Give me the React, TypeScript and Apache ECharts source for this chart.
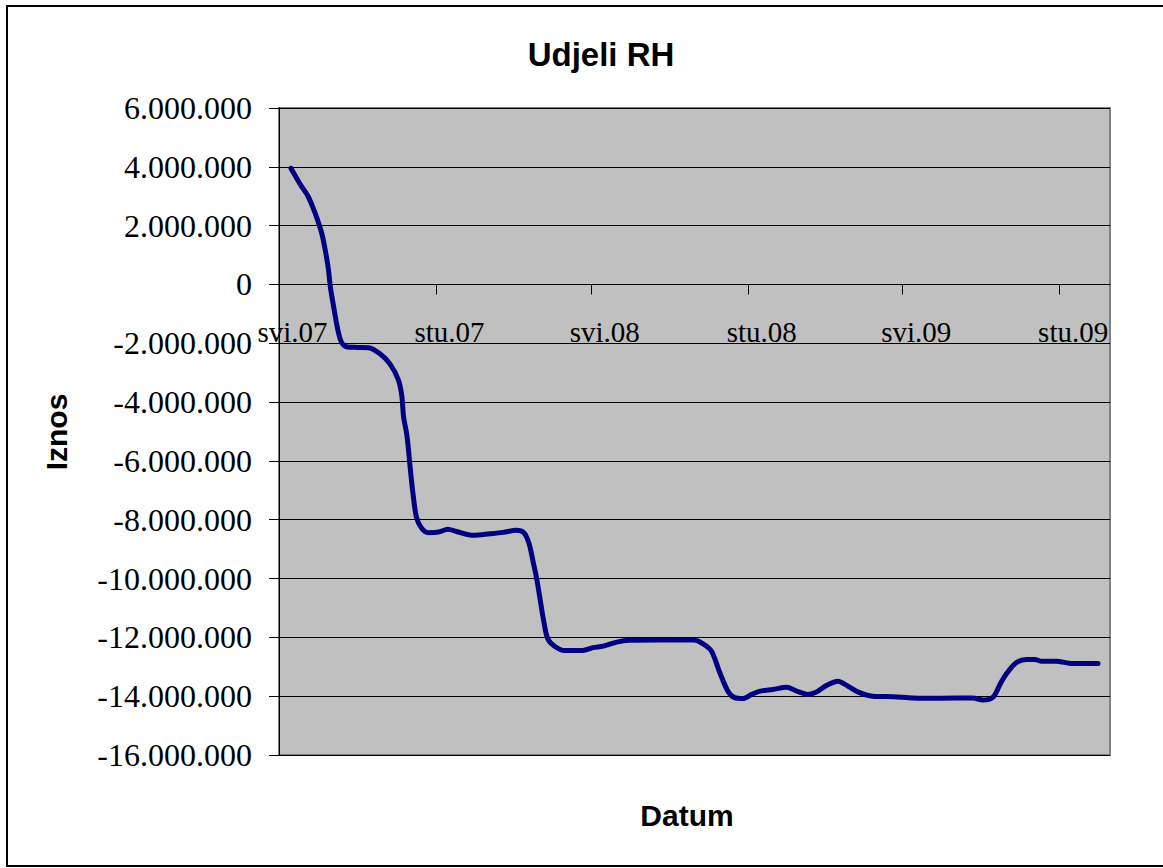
import React, { useEffect, useRef } from 'react';
import * as echarts from 'echarts';

const dates: string[] = [
  '2007-05-15', '2007-05-26', '2007-06-04', '2007-06-12', '2007-06-20', '2007-06-24', '2007-06-28', '2007-06-30',
  '2007-07-04', '2007-07-09', '2007-07-13', '2007-07-19', '2007-08-01', '2007-08-14', '2007-08-27', '2007-09-08',
  '2007-09-18', '2007-09-22', '2007-09-24', '2007-09-28', '2007-10-02', '2007-10-05', '2007-10-09', '2007-10-15',
  '2007-10-23', '2007-11-04', '2007-11-15', '2007-11-25', '2007-12-15', '2008-01-03', '2008-01-19', '2008-02-03',
  '2008-02-12', '2008-02-18', '2008-02-23', '2008-02-27', '2008-03-02', '2008-03-06', '2008-03-11', '2008-03-19',
  '2008-03-31', '2008-04-21', '2008-05-03', '2008-05-15', '2008-05-31', '2008-06-15', '2008-07-20', '2008-08-29',
  '2008-09-09', '2008-09-19', '2008-09-28', '2008-10-08', '2008-10-16', '2008-10-26', '2008-11-05', '2008-11-15',
  '2008-11-30', '2008-12-16', '2008-12-28', '2009-01-10', '2009-01-20', '2009-02-01', '2009-02-14', '2009-02-26',
  '2009-03-10', '2009-03-27', '2009-04-20', '2009-05-13', '2009-06-14', '2009-07-22', '2009-08-03', '2009-08-15',
  '2009-08-23', '2009-08-30', '2009-09-11', '2009-09-23', '2009-10-03', '2009-10-10', '2009-10-28', '2009-11-16',
  '2009-12-16',
];

const values: number[] = [
  3950000, 3400000, 3000000, 2450000, 1750000, 1200000, 500000, -50000,
  -750000, -1550000, -1950000, -2120000, -2140000, -2150000, -2350000, -2700000,
  -3250000, -3800000, -4500000, -5150000, -6300000, -7100000, -7900000, -8280000,
  -8440000, -8420000, -8320000, -8400000, -8530000, -8480000, -8430000, -8360000,
  -8440000, -8800000, -9450000, -10000000, -10700000, -11400000, -12050000, -12300000,
  -12450000, -12450000, -12350000, -12300000, -12160000, -12100000, -12090000, -12090000,
  -12220000, -12470000, -13150000, -13820000, -14050000, -14080000, -13940000, -13830000,
  -13770000, -13700000, -13830000, -13940000, -13860000, -13630000, -13490000, -13660000,
  -13860000, -14000000, -14020000, -14060000, -14070000, -14060000, -14130000, -14030000,
  -13600000, -13260000, -12860000, -12750000, -12750000, -12810000, -12810000, -12890000,
  -12890000,
];

const tickDates: string[] = ['2007-05-01', '2007-11-01', '2008-05-01', '2008-11-01', '2009-05-01', '2009-11-01'];
const tickLabels: string[] = ['svi.07', 'stu.07', 'svi.08', 'stu.08', 'svi.09', 'stu.09'];
const axisStart = '2007-05-01';
const axisEnd = '2009-12-30';
const yMin = -16000000;
const yMax = 6000000;
const yStep = 2000000;

const chartTitle = 'Udjeli RH';
const xTitle = 'Datum';
const yTitle = 'Iznos';

const toUTC = (s: string) => {
  const [y, m, d] = s.split('-').map(Number);
  return Date.UTC(y, m - 1, d);
};
const dayOf = (s: string) => Math.round((toUTC(s) - toUTC(axisStart)) / 86400000);

const fmtNum = (v: number) => {
  const s = Math.round(Math.abs(v)).toString().replace(/\B(?=(\d{3})+(?!\d))/g, '.');
  return (v < 0 ? '-' : '') + s;
};

const GRID_TOP = 108;
const GRID_HEIGHT = 647;

export default function App() {
  const ref = useRef<HTMLDivElement>(null);

  useEffect(() => {
    if (!ref.current) return;
    const chart = echarts.init(ref.current, undefined, { renderer: 'svg' });
    const tickDays = tickDates.map(dayOf);
    const seriesData = dates.map((d, i) => [dayOf(d), values[i]]);
    // distance from the bottom of the plot to the zero line, so the x axis sits on zero
    const zeroOffset = -GRID_HEIGHT * (0 - yMin) / (yMax - yMin);

    chart.setOption({
      animation: false,
      backgroundColor: '#ffffff',
      grid: {
        left: 279,
        top: GRID_TOP,
        width: 831,
        height: GRID_HEIGHT,
        show: true,
        backgroundColor: '#C0C0C0',
        borderColor: '#808080',
        borderWidth: 2,
        outerBoundsMode: 'none',
        containLabel: false,
      },
      xAxis: {
        type: 'value',
        position: 'bottom',
        offset: zeroOffset,
        min: 0,
        max: dayOf(axisEnd),
        axisLine: { show: true, onZero: false, lineStyle: { color: '#000', width: 1 } },
        axisTick: {
          show: true,
          inside: false,
          length: 10,
          customValues: tickDays,
          lineStyle: { color: '#000', width: 1 },
        },
        axisLabel: {
          show: true,
          customValues: tickDays,
          margin: 33,
          fontFamily: '"Liberation Serif", "Times New Roman", serif',
          fontSize: 29,
          color: '#000',
          padding: [0, 0, 0, 27],
          formatter: (v: number) => {
            const i = tickDays.indexOf(Math.round(v));
            return i >= 0 ? tickLabels[i] : '';
          },
        },
        splitLine: { show: false },
      },
      yAxis: {
        type: 'value',
        min: yMin,
        max: yMax,
        interval: yStep,
        axisLine: { show: true, lineStyle: { color: '#000', width: 1 } },
        axisTick: { show: true, inside: false, length: 10, lineStyle: { color: '#000', width: 1 } },
        axisLabel: {
          margin: 27,
          fontFamily: '"Liberation Serif", "Times New Roman", serif',
          fontSize: 32,
          color: '#000',
          formatter: (v: number) => fmtNum(v),
        },
        splitLine: { show: true, lineStyle: { color: '#000', width: 1 } },
      },
      graphic: [
        {
          type: 'rect',
          z: -10,
          shape: { x: 7, y: 6, width: 1175, height: 860 },
          style: { fill: 'none', stroke: '#000', lineWidth: 2 },
        },
        {
          type: 'text',
          x: 601,
          y: 54,
          style: {
            text: chartTitle,
            fontFamily: '"Liberation Sans", Arial, sans-serif',
            fontWeight: 'bold',
            fontSize: 33,
            fill: '#000',
            align: 'center',
            verticalAlign: 'middle',
          },
        },
        {
          type: 'text',
          x: 687,
          y: 815,
          style: {
            text: xTitle,
            fontFamily: '"Liberation Sans", Arial, sans-serif',
            fontWeight: 'bold',
            fontSize: 30,
            fill: '#000',
            align: 'center',
            verticalAlign: 'middle',
          },
        },
        {
          type: 'text',
          x: 56,
          y: 432,
          rotation: Math.PI / 2,
          style: {
            text: yTitle,
            fontFamily: '"Liberation Sans", Arial, sans-serif',
            fontWeight: 'bold',
            fontSize: 30,
            fill: '#000',
            align: 'center',
            verticalAlign: 'middle',
          },
        },
      ],
      series: [
        {
          type: 'line',
          data: seriesData,
          showSymbol: false,
          smooth: 0.3,
          lineStyle: { color: '#000080', width: 5, cap: 'round', join: 'round' },
          itemStyle: { color: '#000080' },
        },
      ],
    });

    return () => chart.dispose();
  }, []);

  return (
    <div
      ref={ref}
      style={{ position: 'fixed', left: 0, top: 0, width: 1163, height: 868 }}
    />
  );
}
